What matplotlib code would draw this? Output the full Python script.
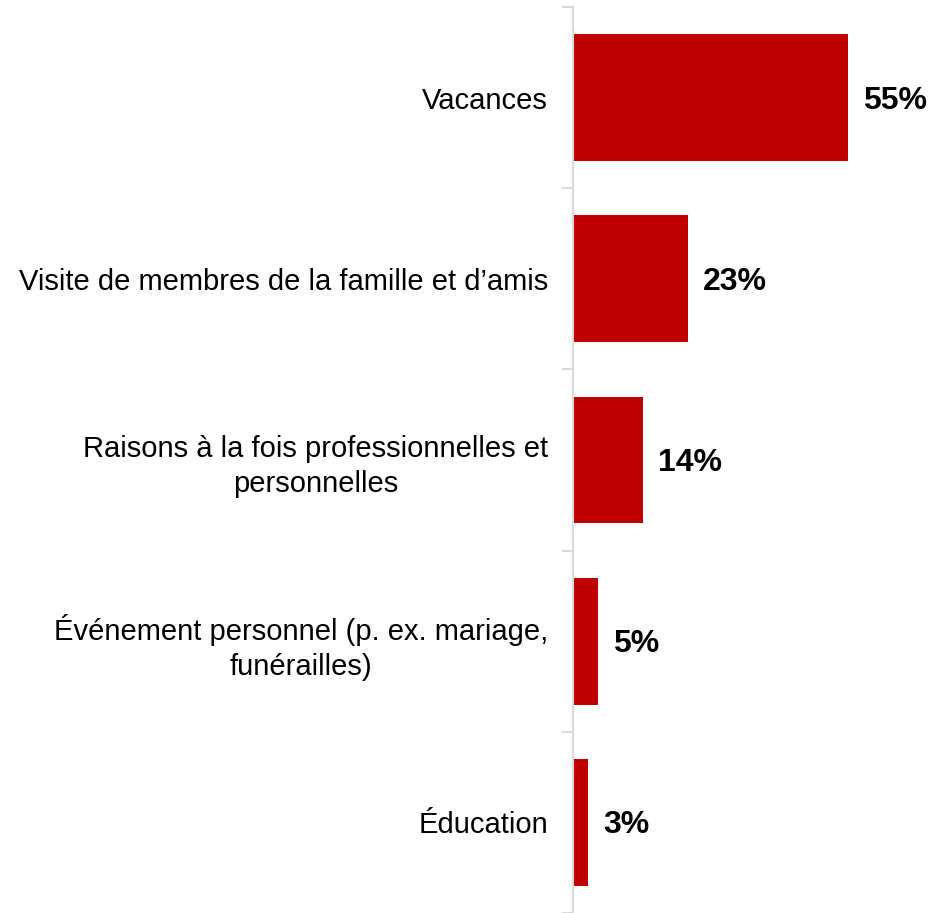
import matplotlib
matplotlib.use("Agg")
import matplotlib.pyplot as plt

categories = [
    "Vacances",
    "Visite de membres de la famille et d\u2019amis",
    "Raisons à la fois professionnelles et\npersonnelles",
    "Événement personnel (p. ex. mariage,\nfunérailles)",
    "Éducation",
]
values = [55, 23, 14, 5, 3]
value_labels = ["55%", "23%", "14%", "5%", "3%"]

plt.rcParams['font.family'] = ['Liberation Sans', 'DejaVu Sans']

W, H = 936, 913
fig = plt.figure(figsize=(W / 100, H / 100), dpi=100)
left, top, bottom, right = 573, 7, 913, 936
ax = fig.add_axes([left / W, 1 - bottom / H, (right - left) / W, (bottom - top) / H])

n = len(categories)
ypos = list(range(n))
ax.barh(ypos, values, height=0.70, color="#C00000", zorder=2)
ax.set_ylim(n - 0.5, -0.5)
ax.set_xlim(0, (right - left) / 5.0)

for y, v, lab in zip(ypos, values, value_labels):
    ax.annotate(lab, xy=(v, y), xytext=(15, -3), textcoords="offset pixels",
                va="center", ha="left", fontsize=23, fontweight="bold", color="black")

ax.set_yticks(ypos)
ax.set_yticklabels(categories, fontsize=21.0, multialignment="center", linespacing=1.3)
ax.tick_params(axis="y", length=0, pad=18)
ax.set_yticks([i - 0.5 for i in range(n + 1)], minor=True)
ax.tick_params(axis="y", which="minor", length=8, color="#D9D9D9", width=1.5)
ax.set_xticks([])

for s in ["top", "right", "bottom"]:
    ax.spines[s].set_visible(False)
ax.spines["left"].set_color("#D9D9D9")
ax.spines["left"].set_linewidth(1.5)

fig.savefig("out.png", dpi=100)
